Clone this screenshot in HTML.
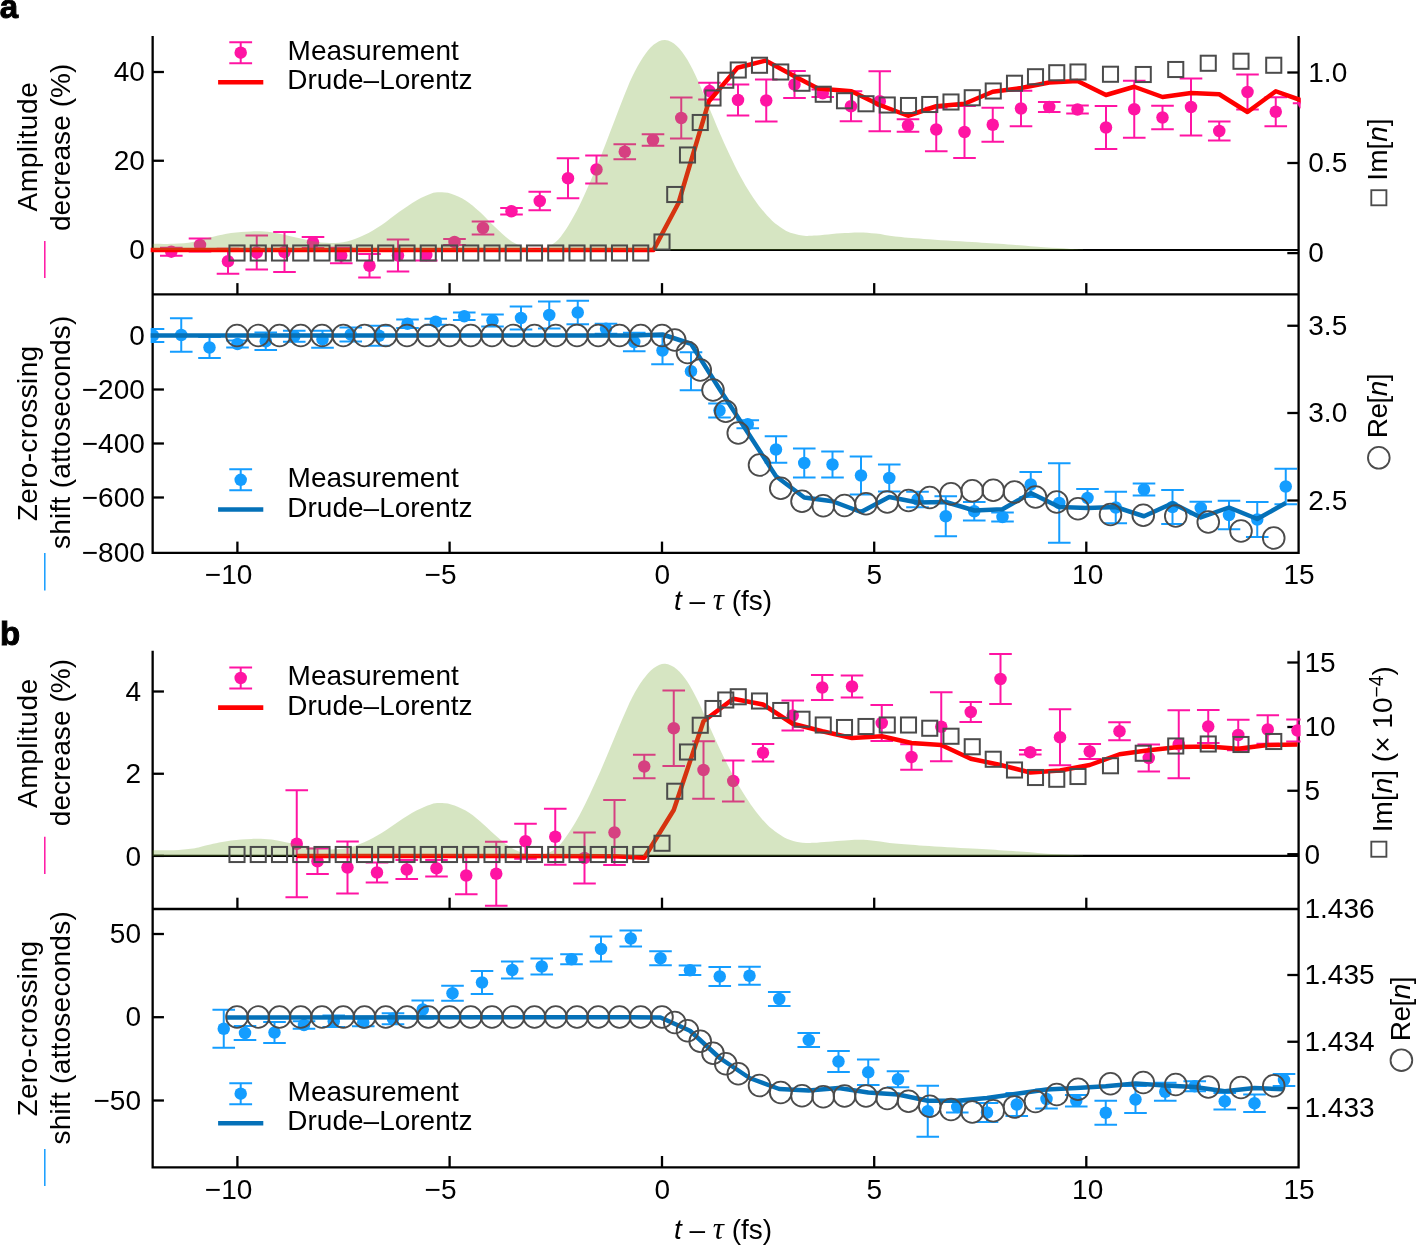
<!DOCTYPE html>
<html><head><meta charset="utf-8"><title>Figure</title>
<style>html,body{margin:0;padding:0;background:#fff}svg{display:block;will-change:transform}</style></head>
<body>
<svg width="1416" height="1245" viewBox="0 0 1416 1245" font-family="'Liberation Sans', sans-serif" fill="#000">
<rect width="1416" height="1245" fill="#fff"/>
<defs>
<clipPath id="ca1"><rect x="150.7" y="30" width="1149.9" height="264.4"/></clipPath>
<clipPath id="ca2"><rect x="150.7" y="294.4" width="1149.9" height="258.5"/></clipPath>
<clipPath id="cb1"><rect x="150.7" y="645" width="1149.9" height="264"/></clipPath>
<clipPath id="cb2"><rect x="150.7" y="909" width="1149.9" height="258.3"/></clipPath>
<clipPath id="cg1"><rect x="152.65" y="30" width="1145.9499999999998" height="220"/></clipPath>
<clipPath id="cg2"><rect x="152.65" y="645" width="1145.9499999999998" height="210.9"/></clipPath>
</defs>
<g stroke="#000" stroke-width="2.3" fill="none" stroke-linecap="butt" stroke-linejoin="miter"><path d="M152.65 36.1V552.9H1298.6V36.1"/><path d="M152.65 294.4H1298.6"/><path d="M152.65 650.7V1167.3H1298.6V650.7"/><path d="M152.65 909H1298.6"/><path d="M237.4 294.4v-11.3"/><path d="M449.6 294.4v-11.3"/><path d="M662 294.4v-11.3"/><path d="M874.2 294.4v-11.3"/><path d="M1086.3 294.4v-11.3"/><path d="M237.4 552.9v-11.3"/><path d="M449.6 552.9v-11.3"/><path d="M662 552.9v-11.3"/><path d="M874.2 552.9v-11.3"/><path d="M1086.3 552.9v-11.3"/><path d="M237.4 909v-11.3"/><path d="M449.6 909v-11.3"/><path d="M662 909v-11.3"/><path d="M874.2 909v-11.3"/><path d="M1086.3 909v-11.3"/><path d="M237.4 1167.3v-11.3"/><path d="M449.6 1167.3v-11.3"/><path d="M662 1167.3v-11.3"/><path d="M874.2 1167.3v-11.3"/><path d="M1086.3 1167.3v-11.3"/><path d="M152.65 72h11.3"/><path d="M152.65 160.75h11.3"/><path d="M152.65 250h11.3"/><path d="M152.65 335.5h11.3"/><path d="M152.65 389.5h11.3"/><path d="M152.65 443.5h11.3"/><path d="M152.65 497.5h11.3"/><path d="M152.65 691.5h11.3"/><path d="M152.65 773.75h11.3"/><path d="M152.65 855.9h11.3"/><path d="M152.65 934h11.3"/><path d="M152.65 1017.2h11.3"/><path d="M152.65 1100.5h11.3"/><path d="M1298.6 72.5h-11.3"/><path d="M1298.6 163h-11.3"/><path d="M1298.6 253.1h-11.3"/><path d="M1298.6 325.75h-11.3"/><path d="M1298.6 413h-11.3"/><path d="M1298.6 500.5h-11.3"/><path d="M1298.6 662.5h-11.3"/><path d="M1298.6 727h-11.3"/><path d="M1298.6 790.75h-11.3"/><path d="M1298.6 854.2h-11.3"/><path d="M1298.6 975h-11.3"/><path d="M1298.6 1041.75h-11.3"/><path d="M1298.6 1108h-11.3"/></g>
<g clip-path="url(#ca1)" stroke="#ff14a3" stroke-width="2" fill="#ff14a3"><path d="M171.30 247.70V255.70M160.00 247.70h22.6M160.00 255.70h22.6" fill="none"/><circle cx="171.30" cy="251.70" r="6.25" stroke="none"/><path d="M200.00 238.50V251.50M188.70 238.50h22.6M188.70 251.50h22.6" fill="none"/><circle cx="200.00" cy="245.00" r="6.25" stroke="none"/><path d="M228.00 248.75V273.75M216.70 248.75h22.6M216.70 273.75h22.6" fill="none"/><circle cx="228.00" cy="261.25" r="6.25" stroke="none"/><path d="M256.75 235.50V269.50M245.45 235.50h22.6M245.45 269.50h22.6" fill="none"/><circle cx="256.75" cy="252.50" r="6.25" stroke="none"/><path d="M284.50 232.00V272.00M273.20 232.00h22.6M273.20 272.00h22.6" fill="none"/><circle cx="284.50" cy="252.00" r="6.25" stroke="none"/><path d="M313.00 237.00V248.00M301.70 237.00h22.6M301.70 248.00h22.6" fill="none"/><circle cx="313.00" cy="242.50" r="6.25" stroke="none"/><path d="M341.25 247.75V263.25M329.95 247.75h22.6M329.95 263.25h22.6" fill="none"/><circle cx="341.25" cy="255.50" r="6.25" stroke="none"/><path d="M369.50 254.00V277.50M358.20 254.00h22.6M358.20 277.50h22.6" fill="none"/><circle cx="369.50" cy="265.75" r="6.25" stroke="none"/><path d="M398.00 239.50V271.50M386.70 239.50h22.6M386.70 271.50h22.6" fill="none"/><circle cx="398.00" cy="255.50" r="6.25" stroke="none"/><path d="M426.25 249.50V260.50M414.95 249.50h22.6M414.95 260.50h22.6" fill="none"/><circle cx="426.25" cy="255.00" r="6.25" stroke="none"/><path d="M454.50 239.00V245.00M443.20 239.00h22.6M443.20 245.00h22.6" fill="none"/><circle cx="454.50" cy="242.00" r="6.25" stroke="none"/><path d="M483.00 221.50V234.50M471.70 221.50h22.6M471.70 234.50h22.6" fill="none"/><circle cx="483.00" cy="228.00" r="6.25" stroke="none"/><path d="M511.50 208.00V214.50M500.20 208.00h22.6M500.20 214.50h22.6" fill="none"/><circle cx="511.50" cy="211.25" r="6.25" stroke="none"/><path d="M539.75 191.75V210.25M528.45 191.75h22.6M528.45 210.25h22.6" fill="none"/><circle cx="539.75" cy="201.00" r="6.25" stroke="none"/><path d="M568.00 158.25V198.25M556.70 158.25h22.6M556.70 198.25h22.6" fill="none"/><circle cx="568.00" cy="178.25" r="6.25" stroke="none"/><path d="M596.50 155.50V183.50M585.20 155.50h22.6M585.20 183.50h22.6" fill="none"/><circle cx="596.50" cy="169.50" r="6.25" stroke="none"/><path d="M624.75 144.15V159.35M613.45 144.15h22.6M613.45 159.35h22.6" fill="none"/><circle cx="624.75" cy="151.75" r="6.25" stroke="none"/><path d="M653.00 134.25V145.75M641.70 134.25h22.6M641.70 145.75h22.6" fill="none"/><circle cx="653.00" cy="140.00" r="6.25" stroke="none"/><path d="M681.25 97.50V138.50M669.95 97.50h22.6M669.95 138.50h22.6" fill="none"/><circle cx="681.25" cy="118.00" r="6.25" stroke="none"/><path d="M709.50 82.70V99.50M698.20 82.70h22.6M698.20 99.50h22.6" fill="none"/><circle cx="709.50" cy="91.10" r="6.25" stroke="none"/><path d="M738.00 84.60V115.40M726.70 84.60h22.6M726.70 115.40h22.6" fill="none"/><circle cx="738.00" cy="100.00" r="6.25" stroke="none"/><path d="M766.25 79.50V121.50M754.95 79.50h22.6M754.95 121.50h22.6" fill="none"/><circle cx="766.25" cy="100.50" r="6.25" stroke="none"/><path d="M794.50 71.10V97.90M783.20 71.10h22.6M783.20 97.90h22.6" fill="none"/><circle cx="794.50" cy="84.50" r="6.25" stroke="none"/><path d="M822.75 89.50V97.00M811.45 89.50h22.6M811.45 97.00h22.6" fill="none"/><circle cx="822.75" cy="93.25" r="6.25" stroke="none"/><path d="M851.00 91.25V121.25M839.70 91.25h22.6M839.70 121.25h22.6" fill="none"/><circle cx="851.00" cy="106.25" r="6.25" stroke="none"/><path d="M879.75 71.25V131.25M868.45 71.25h22.6M868.45 131.25h22.6" fill="none"/><circle cx="879.75" cy="101.25" r="6.25" stroke="none"/><path d="M908.00 119.25V131.75M896.70 119.25h22.6M896.70 131.75h22.6" fill="none"/><circle cx="908.00" cy="125.50" r="6.25" stroke="none"/><path d="M936.25 107.75V151.25M924.95 107.75h22.6M924.95 151.25h22.6" fill="none"/><circle cx="936.25" cy="129.50" r="6.25" stroke="none"/><path d="M964.50 106.00V158.00M953.20 106.00h22.6M953.20 158.00h22.6" fill="none"/><circle cx="964.50" cy="132.00" r="6.25" stroke="none"/><path d="M992.75 107.85V141.65M981.45 107.85h22.6M981.45 141.65h22.6" fill="none"/><circle cx="992.75" cy="124.75" r="6.25" stroke="none"/><path d="M1021.00 90.75V126.25M1009.70 90.75h22.6M1009.70 126.25h22.6" fill="none"/><circle cx="1021.00" cy="108.50" r="6.25" stroke="none"/><path d="M1049.25 102.00V112.00M1037.95 102.00h22.6M1037.95 112.00h22.6" fill="none"/><circle cx="1049.25" cy="107.00" r="6.25" stroke="none"/><path d="M1077.50 105.50V113.50M1066.20 105.50h22.6M1066.20 113.50h22.6" fill="none"/><circle cx="1077.50" cy="109.50" r="6.25" stroke="none"/><path d="M1106.00 106.10V148.90M1094.70 106.10h22.6M1094.70 148.90h22.6" fill="none"/><circle cx="1106.00" cy="127.50" r="6.25" stroke="none"/><path d="M1134.25 80.85V137.65M1122.95 80.85h22.6M1122.95 137.65h22.6" fill="none"/><circle cx="1134.25" cy="109.25" r="6.25" stroke="none"/><path d="M1162.50 105.75V129.25M1151.20 105.75h22.6M1151.20 129.25h22.6" fill="none"/><circle cx="1162.50" cy="117.50" r="6.25" stroke="none"/><path d="M1191.00 78.50V135.50M1179.70 78.50h22.6M1179.70 135.50h22.6" fill="none"/><circle cx="1191.00" cy="107.00" r="6.25" stroke="none"/><path d="M1219.25 121.50V140.50M1207.95 121.50h22.6M1207.95 140.50h22.6" fill="none"/><circle cx="1219.25" cy="131.00" r="6.25" stroke="none"/><path d="M1247.50 74.60V109.40M1236.20 74.60h22.6M1236.20 109.40h22.6" fill="none"/><circle cx="1247.50" cy="92.00" r="6.25" stroke="none"/><path d="M1275.75 97.15V126.35M1264.45 97.15h22.6M1264.45 126.35h22.6" fill="none"/><circle cx="1275.75" cy="111.75" r="6.25" stroke="none"/><path d="M1304.10 103.30V103.30M1292.80 103.30h22.6M1292.80 103.30h22.6" fill="none"/><circle cx="1304.10" cy="103.30" r="6.25" stroke="none"/></g>
<path d="M152.65 250H1298.6" stroke="#000" stroke-width="2.2"/>
<path clip-path="url(#ca1)" d="M148.00 249.90L653.50 249.90L678.50 203.00L708.80 101.50L737.50 67.80L765.50 60.60L794.50 76.30L818.00 88.60L851.50 91.25L879.75 105.00L908.00 115.75L936.25 106.25L964.50 103.75L992.75 91.75L1021.00 88.00L1049.25 82.50L1077.50 81.00L1106.00 95.00L1134.25 86.75L1162.50 97.00L1191.00 93.00L1219.25 94.25L1247.50 112.00L1275.75 91.25L1302.00 100.60" fill="none" stroke="#ff0000" stroke-width="4.5" stroke-linejoin="round" stroke-linecap="butt"/>
<path clip-path="url(#cg1)" d="M150.00 243.70C150.58 243.70 149.55 243.68 153.50 243.70C157.45 243.72 167.12 244.10 173.70 243.80C180.28 243.50 187.30 242.87 193.00 241.90C198.70 240.93 201.57 239.47 207.90 238.00C214.23 236.53 223.77 234.20 231.00 233.10C238.23 232.00 244.53 231.55 251.30 231.40C258.07 231.25 264.35 231.23 271.60 232.20C278.85 233.17 288.05 235.75 294.80 237.20C301.55 238.65 306.32 239.93 312.10 240.90C317.88 241.87 323.70 242.90 329.50 243.00C335.30 243.10 341.12 242.82 346.90 241.50C352.68 240.18 358.42 237.85 364.20 235.10C369.98 232.35 375.80 228.85 381.60 225.00C387.40 221.15 393.20 216.10 399.00 212.00C404.80 207.90 411.10 203.45 416.40 200.40C421.70 197.35 426.95 195.05 430.80 193.70C434.65 192.35 436.12 192.30 439.50 192.30C442.88 192.30 446.75 192.35 451.10 193.70C455.45 195.05 460.78 197.35 465.60 200.40C470.42 203.45 475.18 207.65 480.00 212.00C484.82 216.35 489.67 221.92 494.50 226.50C499.33 231.08 504.65 236.27 509.00 239.50C513.35 242.73 516.73 244.38 520.60 245.90C524.47 247.42 528.80 248.17 532.20 248.60C535.60 249.03 538.45 248.73 541.00 248.50C543.55 248.27 544.65 248.67 547.50 247.20C550.35 245.73 554.57 243.42 558.10 239.70C561.63 235.98 565.17 230.55 568.70 224.90C572.23 219.25 575.77 212.87 579.30 205.80C582.83 198.73 586.37 190.62 589.90 182.50C593.43 174.38 596.97 165.92 600.50 157.10C604.03 148.28 607.57 138.78 611.10 129.60C614.63 120.42 618.17 110.83 621.70 102.00C625.23 93.17 628.77 84.02 632.30 76.60C635.83 69.18 639.37 62.80 642.90 57.50C646.43 52.20 649.80 47.72 653.50 44.80C657.20 41.88 661.22 39.82 665.10 40.00C668.98 40.18 673.08 42.62 676.80 45.90C680.52 49.18 683.87 53.88 687.40 59.70C690.93 65.52 694.47 73.03 698.00 80.80C701.53 88.57 705.07 97.82 708.60 106.30C712.13 114.78 715.68 123.58 719.20 131.70C722.72 139.82 726.18 147.58 729.70 155.00C733.22 162.42 736.77 169.67 740.30 176.20C743.83 182.73 747.37 188.73 750.90 194.20C754.43 199.67 757.97 204.58 761.50 209.00C765.03 213.42 768.57 217.42 772.10 220.70C775.63 223.98 780.13 226.92 782.70 228.70C785.27 230.48 785.73 230.58 787.50 231.40C789.27 232.22 791.38 232.98 793.30 233.60C795.22 234.22 796.88 234.72 799.00 235.10C801.12 235.48 803.50 235.82 806.00 235.90C808.50 235.98 810.33 235.85 814.00 235.60C817.67 235.35 822.83 234.82 828.00 234.40C833.17 233.98 839.80 233.43 845.00 233.10C850.20 232.77 854.03 232.32 859.20 232.40C864.37 232.48 870.00 232.92 876.00 233.60C882.00 234.28 887.20 235.62 895.20 236.50C903.20 237.38 911.20 237.98 924.00 238.90C936.80 239.82 958.00 241.08 972.00 242.00C986.00 242.92 996.00 243.52 1008.00 244.40C1020.00 245.28 1034.00 246.58 1044.00 247.30C1054.00 248.02 1061.50 248.32 1068.00 248.70C1074.50 249.08 1080.50 249.45 1083.00 249.60L1083.00 250L150.00 250Z" fill="rgb(118,168,52)" fill-opacity="0.3"/>
<g fill="none" stroke="#4b4b4b" stroke-width="2"><rect x="229.45" y="245.45" width="15.1" height="15.1"/><rect x="250.70" y="245.45" width="15.1" height="15.1"/><rect x="271.95" y="245.45" width="15.1" height="15.1"/><rect x="293.20" y="245.45" width="15.1" height="15.1"/><rect x="314.45" y="245.45" width="15.1" height="15.1"/><rect x="335.70" y="245.45" width="15.1" height="15.1"/><rect x="356.95" y="245.45" width="15.1" height="15.1"/><rect x="378.20" y="245.45" width="15.1" height="15.1"/><rect x="399.45" y="245.45" width="15.1" height="15.1"/><rect x="420.70" y="245.45" width="15.1" height="15.1"/><rect x="441.95" y="245.45" width="15.1" height="15.1"/><rect x="463.20" y="245.45" width="15.1" height="15.1"/><rect x="484.45" y="245.45" width="15.1" height="15.1"/><rect x="505.70" y="245.45" width="15.1" height="15.1"/><rect x="526.95" y="245.45" width="15.1" height="15.1"/><rect x="548.20" y="245.45" width="15.1" height="15.1"/><rect x="569.45" y="245.45" width="15.1" height="15.1"/><rect x="590.70" y="245.45" width="15.1" height="15.1"/><rect x="611.95" y="245.45" width="15.1" height="15.1"/><rect x="633.20" y="245.45" width="15.1" height="15.1"/><rect x="654.45" y="234.45" width="15.1" height="15.1"/><rect x="667.20" y="186.95" width="15.1" height="15.1"/><rect x="679.95" y="147.45" width="15.1" height="15.1"/><rect x="692.70" y="114.95" width="15.1" height="15.1"/><rect x="705.45" y="90.45" width="15.1" height="15.1"/><rect x="718.20" y="72.70" width="15.1" height="15.1"/><rect x="730.70" y="62.45" width="15.1" height="15.1"/><rect x="751.95" y="57.70" width="15.1" height="15.1"/><rect x="773.20" y="64.45" width="15.1" height="15.1"/><rect x="794.45" y="75.70" width="15.1" height="15.1"/><rect x="815.70" y="86.70" width="15.1" height="15.1"/><rect x="836.95" y="93.20" width="15.1" height="15.1"/><rect x="858.45" y="96.20" width="15.1" height="15.1"/><rect x="879.70" y="97.45" width="15.1" height="15.1"/><rect x="900.95" y="97.95" width="15.1" height="15.1"/><rect x="922.20" y="96.95" width="15.1" height="15.1"/><rect x="943.45" y="94.45" width="15.1" height="15.1"/><rect x="964.70" y="90.20" width="15.1" height="15.1"/><rect x="985.70" y="83.45" width="15.1" height="15.1"/><rect x="1006.95" y="75.70" width="15.1" height="15.1"/><rect x="1027.95" y="69.20" width="15.1" height="15.1"/><rect x="1049.20" y="65.20" width="15.1" height="15.1"/><rect x="1070.45" y="64.45" width="15.1" height="15.1"/><rect x="1102.95" y="66.70" width="15.1" height="15.1"/><rect x="1135.70" y="66.95" width="15.1" height="15.1"/><rect x="1168.20" y="61.95" width="15.1" height="15.1"/><rect x="1200.70" y="55.70" width="15.1" height="15.1"/><rect x="1233.45" y="53.70" width="15.1" height="15.1"/><rect x="1266.20" y="57.70" width="15.1" height="15.1"/></g>
<g clip-path="url(#ca2)" stroke="#149dff" stroke-width="2" fill="#149dff"><path d="M153.00 328.90V342.10M141.70 328.90h22.6M141.70 342.10h22.6" fill="none"/><circle cx="153.00" cy="335.50" r="6.25" stroke="none"/><path d="M181.25 318.25V351.75M169.95 318.25h22.6M169.95 351.75h22.6" fill="none"/><circle cx="181.25" cy="335.00" r="6.25" stroke="none"/><path d="M209.50 337.00V358.00M198.20 337.00h22.6M198.20 358.00h22.6" fill="none"/><circle cx="209.50" cy="347.50" r="6.25" stroke="none"/><path d="M237.50 340.50V347.50M226.20 340.50h22.6M226.20 347.50h22.6" fill="none"/><circle cx="237.50" cy="344.00" r="6.25" stroke="none"/><path d="M265.75 332.50V350.00M254.45 332.50h22.6M254.45 350.00h22.6" fill="none"/><circle cx="265.75" cy="341.25" r="6.25" stroke="none"/><path d="M294.25 330.75V341.75M282.95 330.75h22.6M282.95 341.75h22.6" fill="none"/><circle cx="294.25" cy="336.25" r="6.25" stroke="none"/><path d="M322.50 330.75V347.75M311.20 330.75h22.6M311.20 347.75h22.6" fill="none"/><circle cx="322.50" cy="339.25" r="6.25" stroke="none"/><path d="M350.75 327.50V341.50M339.45 327.50h22.6M339.45 341.50h22.6" fill="none"/><circle cx="350.75" cy="334.50" r="6.25" stroke="none"/><path d="M379.00 325.75V345.75M367.70 325.75h22.6M367.70 345.75h22.6" fill="none"/><circle cx="379.00" cy="335.75" r="6.25" stroke="none"/><path d="M407.50 319.50V328.00M396.20 319.50h22.6M396.20 328.00h22.6" fill="none"/><circle cx="407.50" cy="323.75" r="6.25" stroke="none"/><path d="M435.75 318.75V324.75M424.45 318.75h22.6M424.45 324.75h22.6" fill="none"/><circle cx="435.75" cy="321.75" r="6.25" stroke="none"/><path d="M464.25 312.50V320.00M452.95 312.50h22.6M452.95 320.00h22.6" fill="none"/><circle cx="464.25" cy="316.25" r="6.25" stroke="none"/><path d="M492.50 314.50V326.50M481.20 314.50h22.6M481.20 326.50h22.6" fill="none"/><circle cx="492.50" cy="320.50" r="6.25" stroke="none"/><path d="M521.00 306.50V329.50M509.70 306.50h22.6M509.70 329.50h22.6" fill="none"/><circle cx="521.00" cy="318.00" r="6.25" stroke="none"/><path d="M549.25 301.60V328.40M537.95 301.60h22.6M537.95 328.40h22.6" fill="none"/><circle cx="549.25" cy="315.00" r="6.25" stroke="none"/><path d="M577.75 300.75V324.25M566.45 300.75h22.6M566.45 324.25h22.6" fill="none"/><circle cx="577.75" cy="312.50" r="6.25" stroke="none"/><path d="M606.00 323.75V333.75M594.70 323.75h22.6M594.70 333.75h22.6" fill="none"/><circle cx="606.00" cy="328.75" r="6.25" stroke="none"/><path d="M634.25 332.75V351.25M622.95 332.75h22.6M622.95 351.25h22.6" fill="none"/><circle cx="634.25" cy="342.00" r="6.25" stroke="none"/><path d="M662.50 336.75V364.25M651.20 336.75h22.6M651.20 364.25h22.6" fill="none"/><circle cx="662.50" cy="350.50" r="6.25" stroke="none"/><path d="M691.00 352.25V390.25M679.70 352.25h22.6M679.70 390.25h22.6" fill="none"/><circle cx="691.00" cy="371.25" r="6.25" stroke="none"/><path d="M719.50 403.60V417.40M708.20 403.60h22.6M708.20 417.40h22.6" fill="none"/><circle cx="719.50" cy="410.50" r="6.25" stroke="none"/><path d="M747.75 420.25V428.25M736.45 420.25h22.6M736.45 428.25h22.6" fill="none"/><circle cx="747.75" cy="424.25" r="6.25" stroke="none"/><path d="M776.00 436.25V462.75M764.70 436.25h22.6M764.70 462.75h22.6" fill="none"/><circle cx="776.00" cy="449.50" r="6.25" stroke="none"/><path d="M804.25 448.60V477.40M792.95 448.60h22.6M792.95 477.40h22.6" fill="none"/><circle cx="804.25" cy="463.00" r="6.25" stroke="none"/><path d="M832.50 451.50V477.50M821.20 451.50h22.6M821.20 477.50h22.6" fill="none"/><circle cx="832.50" cy="464.50" r="6.25" stroke="none"/><path d="M861.00 456.50V494.50M849.70 456.50h22.6M849.70 494.50h22.6" fill="none"/><circle cx="861.00" cy="475.50" r="6.25" stroke="none"/><path d="M889.25 464.50V491.50M877.95 464.50h22.6M877.95 491.50h22.6" fill="none"/><circle cx="889.25" cy="478.00" r="6.25" stroke="none"/><path d="M917.50 491.75V507.25M906.20 491.75h22.6M906.20 507.25h22.6" fill="none"/><circle cx="917.50" cy="499.50" r="6.25" stroke="none"/><path d="M945.75 496.25V536.25M934.45 496.25h22.6M934.45 536.25h22.6" fill="none"/><circle cx="945.75" cy="516.25" r="6.25" stroke="none"/><path d="M974.25 502.00V520.50M962.95 502.00h22.6M962.95 520.50h22.6" fill="none"/><circle cx="974.25" cy="511.25" r="6.25" stroke="none"/><path d="M1002.50 512.50V521.50M991.20 512.50h22.6M991.20 521.50h22.6" fill="none"/><circle cx="1002.50" cy="517.00" r="6.25" stroke="none"/><path d="M1030.75 472.00V497.00M1019.45 472.00h22.6M1019.45 497.00h22.6" fill="none"/><circle cx="1030.75" cy="484.50" r="6.25" stroke="none"/><path d="M1059.25 463.25V542.75M1047.95 463.25h22.6M1047.95 542.75h22.6" fill="none"/><circle cx="1059.25" cy="503.00" r="6.25" stroke="none"/><path d="M1087.50 489.00V507.00M1076.20 489.00h22.6M1076.20 507.00h22.6" fill="none"/><circle cx="1087.50" cy="498.00" r="6.25" stroke="none"/><path d="M1115.75 491.75V523.25M1104.45 491.75h22.6M1104.45 523.25h22.6" fill="none"/><circle cx="1115.75" cy="507.50" r="6.25" stroke="none"/><path d="M1144.00 483.40V495.60M1132.70 483.40h22.6M1132.70 495.60h22.6" fill="none"/><circle cx="1144.00" cy="489.50" r="6.25" stroke="none"/><path d="M1172.50 490.00V524.00M1161.20 490.00h22.6M1161.20 524.00h22.6" fill="none"/><circle cx="1172.50" cy="507.00" r="6.25" stroke="none"/><path d="M1200.75 501.75V514.25M1189.45 501.75h22.6M1189.45 514.25h22.6" fill="none"/><circle cx="1200.75" cy="508.00" r="6.25" stroke="none"/><path d="M1229.00 500.75V529.25M1217.70 500.75h22.6M1217.70 529.25h22.6" fill="none"/><circle cx="1229.00" cy="515.00" r="6.25" stroke="none"/><path d="M1257.25 502.00V537.00M1245.95 502.00h22.6M1245.95 537.00h22.6" fill="none"/><circle cx="1257.25" cy="519.50" r="6.25" stroke="none"/><path d="M1285.75 468.75V504.25M1274.45 468.75h22.6M1274.45 504.25h22.6" fill="none"/><circle cx="1285.75" cy="486.50" r="6.25" stroke="none"/></g>
<path clip-path="url(#ca2)" d="M148.00 335.50L634.25 335.50L662.50 334.50L691.00 343.75L719.50 389.00L747.75 432.50L776.00 476.25L804.25 497.50L832.50 501.25L861.00 512.00L889.25 497.00L917.50 502.50L945.75 502.00L974.25 510.50L1002.50 509.25L1030.75 493.00L1059.25 507.00L1087.50 508.00L1115.75 507.00L1144.00 516.25L1172.50 503.25L1200.75 517.50L1229.00 507.50L1257.25 519.00L1285.75 503.00" fill="none" stroke="#0571b8" stroke-width="4.5" stroke-linejoin="round" stroke-linecap="butt"/>
<g fill="none" stroke="#4b4b4b" stroke-width="1.85"><circle cx="237.00" cy="335.50" r="10.85"/><circle cx="258.25" cy="335.50" r="10.85"/><circle cx="279.50" cy="335.50" r="10.85"/><circle cx="300.75" cy="335.50" r="10.85"/><circle cx="322.00" cy="335.50" r="10.85"/><circle cx="343.25" cy="335.50" r="10.85"/><circle cx="364.50" cy="335.50" r="10.85"/><circle cx="385.75" cy="335.50" r="10.85"/><circle cx="407.00" cy="335.50" r="10.85"/><circle cx="428.25" cy="335.50" r="10.85"/><circle cx="449.50" cy="335.50" r="10.85"/><circle cx="470.75" cy="335.50" r="10.85"/><circle cx="492.00" cy="335.50" r="10.85"/><circle cx="513.25" cy="335.50" r="10.85"/><circle cx="534.50" cy="335.50" r="10.85"/><circle cx="555.75" cy="335.50" r="10.85"/><circle cx="577.00" cy="335.50" r="10.85"/><circle cx="598.25" cy="335.50" r="10.85"/><circle cx="619.50" cy="335.50" r="10.85"/><circle cx="640.75" cy="335.50" r="10.85"/><circle cx="662.00" cy="335.50" r="10.85"/><circle cx="674.75" cy="340.00" r="10.85"/><circle cx="687.50" cy="352.50" r="10.85"/><circle cx="700.25" cy="370.00" r="10.85"/><circle cx="713.00" cy="390.00" r="10.85"/><circle cx="725.75" cy="411.25" r="10.85"/><circle cx="738.25" cy="433.00" r="10.85"/><circle cx="759.50" cy="465.00" r="10.85"/><circle cx="780.75" cy="488.25" r="10.85"/><circle cx="802.00" cy="501.25" r="10.85"/><circle cx="823.25" cy="505.75" r="10.85"/><circle cx="844.50" cy="505.50" r="10.85"/><circle cx="866.00" cy="503.75" r="10.85"/><circle cx="887.25" cy="502.00" r="10.85"/><circle cx="908.50" cy="500.50" r="10.85"/><circle cx="929.75" cy="497.50" r="10.85"/><circle cx="951.00" cy="493.75" r="10.85"/><circle cx="972.25" cy="490.75" r="10.85"/><circle cx="993.25" cy="490.25" r="10.85"/><circle cx="1014.50" cy="492.00" r="10.85"/><circle cx="1035.50" cy="497.00" r="10.85"/><circle cx="1056.75" cy="502.00" r="10.85"/><circle cx="1078.00" cy="508.75" r="10.85"/><circle cx="1110.50" cy="514.50" r="10.85"/><circle cx="1143.25" cy="515.25" r="10.85"/><circle cx="1175.75" cy="516.00" r="10.85"/><circle cx="1208.25" cy="522.00" r="10.85"/><circle cx="1241.00" cy="531.00" r="10.85"/><circle cx="1273.75" cy="538.00" r="10.85"/></g>
<g clip-path="url(#cb1)" stroke="#ff14a3" stroke-width="2" fill="#ff14a3"><path d="M296.75 790.25V897.25M285.45 790.25h22.6M285.45 897.25h22.6" fill="none"/><circle cx="296.75" cy="843.75" r="6.25" stroke="none"/><path d="M317.50 848.50V874.00M306.20 848.50h22.6M306.20 874.00h22.6" fill="none"/><circle cx="317.50" cy="861.25" r="6.25" stroke="none"/><path d="M347.50 841.50V893.50M336.20 841.50h22.6M336.20 893.50h22.6" fill="none"/><circle cx="347.50" cy="867.50" r="6.25" stroke="none"/><path d="M377.00 862.50V882.50M365.70 862.50h22.6M365.70 882.50h22.6" fill="none"/><circle cx="377.00" cy="872.50" r="6.25" stroke="none"/><path d="M406.75 860.00V879.00M395.45 860.00h22.6M395.45 879.00h22.6" fill="none"/><circle cx="406.75" cy="869.50" r="6.25" stroke="none"/><path d="M436.50 860.00V876.50M425.20 860.00h22.6M425.20 876.50h22.6" fill="none"/><circle cx="436.50" cy="868.25" r="6.25" stroke="none"/><path d="M466.25 856.75V894.25M454.95 856.75h22.6M454.95 894.25h22.6" fill="none"/><circle cx="466.25" cy="875.50" r="6.25" stroke="none"/><path d="M496.25 841.75V905.75M484.95 841.75h22.6M484.95 905.75h22.6" fill="none"/><circle cx="496.25" cy="873.75" r="6.25" stroke="none"/><path d="M525.50 823.75V858.75M514.20 823.75h22.6M514.20 858.75h22.6" fill="none"/><circle cx="525.50" cy="841.25" r="6.25" stroke="none"/><path d="M555.25 808.75V864.75M543.95 808.75h22.6M543.95 864.75h22.6" fill="none"/><circle cx="555.25" cy="836.75" r="6.25" stroke="none"/><path d="M584.50 832.50V883.50M573.20 832.50h22.6M573.20 883.50h22.6" fill="none"/><circle cx="584.50" cy="858.00" r="6.25" stroke="none"/><path d="M614.50 800.00V865.00M603.20 800.00h22.6M603.20 865.00h22.6" fill="none"/><circle cx="614.50" cy="832.50" r="6.25" stroke="none"/><path d="M644.25 754.75V778.25M632.95 754.75h22.6M632.95 778.25h22.6" fill="none"/><circle cx="644.25" cy="766.50" r="6.25" stroke="none"/><path d="M673.75 690.50V766.00M662.45 690.50h22.6M662.45 766.00h22.6" fill="none"/><circle cx="673.75" cy="728.25" r="6.25" stroke="none"/><path d="M703.50 741.25V798.75M692.20 741.25h22.6M692.20 798.75h22.6" fill="none"/><circle cx="703.50" cy="770.00" r="6.25" stroke="none"/><path d="M733.25 760.40V801.60M721.95 760.40h22.6M721.95 801.60h22.6" fill="none"/><circle cx="733.25" cy="781.00" r="6.25" stroke="none"/><path d="M763.00 744.00V761.50M751.70 744.00h22.6M751.70 761.50h22.6" fill="none"/><circle cx="763.00" cy="752.75" r="6.25" stroke="none"/><path d="M792.75 700.50V730.50M781.45 700.50h22.6M781.45 730.50h22.6" fill="none"/><circle cx="792.75" cy="715.50" r="6.25" stroke="none"/><path d="M822.25 675.00V700.00M810.95 675.00h22.6M810.95 700.00h22.6" fill="none"/><circle cx="822.25" cy="687.50" r="6.25" stroke="none"/><path d="M852.00 675.60V697.40M840.70 675.60h22.6M840.70 697.40h22.6" fill="none"/><circle cx="852.00" cy="686.50" r="6.25" stroke="none"/><path d="M881.75 705.00V741.00M870.45 705.00h22.6M870.45 741.00h22.6" fill="none"/><circle cx="881.75" cy="723.00" r="6.25" stroke="none"/><path d="M911.50 744.25V769.75M900.20 744.25h22.6M900.20 769.75h22.6" fill="none"/><circle cx="911.50" cy="757.00" r="6.25" stroke="none"/><path d="M941.25 692.35V761.15M929.95 692.35h22.6M929.95 761.15h22.6" fill="none"/><circle cx="941.25" cy="726.75" r="6.25" stroke="none"/><path d="M970.75 702.00V722.00M959.45 702.00h22.6M959.45 722.00h22.6" fill="none"/><circle cx="970.75" cy="712.00" r="6.25" stroke="none"/><path d="M1000.50 654.00V704.00M989.20 654.00h22.6M989.20 704.00h22.6" fill="none"/><circle cx="1000.50" cy="679.00" r="6.25" stroke="none"/><path d="M1030.25 750.00V754.50M1018.95 750.00h22.6M1018.95 754.50h22.6" fill="none"/><circle cx="1030.25" cy="752.25" r="6.25" stroke="none"/><path d="M1060.00 709.25V765.25M1048.70 709.25h22.6M1048.70 765.25h22.6" fill="none"/><circle cx="1060.00" cy="737.25" r="6.25" stroke="none"/><path d="M1089.75 743.90V759.10M1078.45 743.90h22.6M1078.45 759.10h22.6" fill="none"/><circle cx="1089.75" cy="751.50" r="6.25" stroke="none"/><path d="M1119.50 722.15V740.35M1108.20 722.15h22.6M1108.20 740.35h22.6" fill="none"/><circle cx="1119.50" cy="731.25" r="6.25" stroke="none"/><path d="M1148.75 744.60V771.40M1137.45 744.60h22.6M1137.45 771.40h22.6" fill="none"/><circle cx="1148.75" cy="758.00" r="6.25" stroke="none"/><path d="M1178.75 710.15V778.35M1167.45 710.15h22.6M1167.45 778.35h22.6" fill="none"/><circle cx="1178.75" cy="744.25" r="6.25" stroke="none"/><path d="M1208.25 710.00V743.00M1196.95 710.00h22.6M1196.95 743.00h22.6" fill="none"/><circle cx="1208.25" cy="726.50" r="6.25" stroke="none"/><path d="M1238.25 719.75V750.25M1226.95 719.75h22.6M1226.95 750.25h22.6" fill="none"/><circle cx="1238.25" cy="735.00" r="6.25" stroke="none"/><path d="M1267.75 715.25V743.75M1256.45 715.25h22.6M1256.45 743.75h22.6" fill="none"/><circle cx="1267.75" cy="729.50" r="6.25" stroke="none"/><path d="M1297.50 719.50V741.50M1286.20 719.50h22.6M1286.20 741.50h22.6" fill="none"/><circle cx="1297.50" cy="730.50" r="6.25" stroke="none"/></g>
<path d="M152.65 855.9H1298.6" stroke="#000" stroke-width="2.2"/>
<path clip-path="url(#cb1)" d="M296.75 855.90L614.50 856.20L644.25 857.80L673.75 810.00L703.50 721.25L733.25 698.75L763.00 704.50L792.75 723.75L822.25 731.25L852.00 738.00L881.75 736.25L911.50 743.00L941.25 745.00L970.75 758.75L1000.50 765.00L1030.25 772.50L1060.00 770.50L1089.75 765.00L1119.50 754.25L1148.75 750.25L1178.75 747.00L1208.25 746.50L1238.25 748.75L1267.75 745.00L1297.50 744.50" fill="none" stroke="#ff0000" stroke-width="4.5" stroke-linejoin="round" stroke-linecap="butt"/>
<path clip-path="url(#cg2)" d="M150.00 850.14C150.58 850.14 149.55 850.12 153.50 850.14C157.45 850.15 167.12 850.50 173.70 850.23C180.28 849.95 187.30 849.37 193.00 848.49C198.70 847.60 201.57 846.26 207.90 844.92C214.23 843.58 223.77 841.44 231.00 840.44C238.23 839.43 244.53 839.02 251.30 838.88C258.07 838.74 264.35 838.73 271.60 839.61C278.85 840.50 288.05 842.86 294.80 844.19C301.55 845.51 306.32 846.69 312.10 847.57C317.88 848.46 323.70 849.40 329.50 849.50C335.30 849.59 341.12 849.33 346.90 848.12C352.68 846.92 358.42 844.78 364.20 842.27C369.98 839.75 375.80 836.55 381.60 833.02C387.40 829.50 393.20 824.88 399.00 821.13C404.80 817.38 411.10 813.31 416.40 810.52C421.70 807.73 426.95 805.62 430.80 804.39C434.65 803.15 436.12 803.10 439.50 803.10C442.88 803.10 446.75 803.15 451.10 804.39C455.45 805.62 460.78 807.73 465.60 810.52C470.42 813.31 475.18 817.15 480.00 821.13C484.82 825.11 489.67 830.20 494.50 834.40C499.33 838.59 504.65 843.33 509.00 846.29C513.35 849.25 516.73 850.76 520.60 852.15C524.47 853.54 528.80 854.22 532.20 854.62C535.60 855.02 538.45 854.74 541.00 854.53C543.55 854.31 544.65 854.68 547.50 853.34C550.35 852.00 554.57 849.88 558.10 846.48C561.63 843.07 565.17 838.10 568.70 832.93C572.23 827.76 575.77 821.92 579.30 815.46C582.83 808.99 586.37 801.56 589.90 794.14C593.43 786.71 596.97 778.96 600.50 770.90C604.03 762.83 607.57 754.14 611.10 745.73C614.63 737.33 618.17 728.56 621.70 720.48C625.23 712.40 628.77 704.03 632.30 697.24C635.83 690.45 639.37 684.61 642.90 679.76C646.43 674.91 649.80 670.81 653.50 668.14C657.20 665.47 661.22 663.58 665.10 663.75C668.98 663.92 673.08 666.14 676.80 669.15C680.52 672.15 683.87 676.45 687.40 681.78C690.93 687.10 694.47 693.98 698.00 701.08C701.53 708.19 705.07 716.65 708.60 724.41C712.13 732.18 715.68 740.23 719.20 747.66C722.72 755.08 726.18 762.19 729.70 768.98C733.22 775.76 736.77 782.39 740.30 788.37C743.83 794.35 747.37 799.84 750.90 804.84C754.43 809.85 757.97 814.34 761.50 818.38C765.03 822.43 768.57 826.09 772.10 829.09C775.63 832.09 780.13 834.78 782.70 836.41C785.27 838.04 785.73 838.13 787.50 838.88C789.27 839.63 791.38 840.33 793.30 840.89C795.22 841.46 796.88 841.92 799.00 842.27C801.12 842.62 803.50 842.92 806.00 843.00C808.50 843.07 810.33 842.95 814.00 842.72C817.67 842.50 822.83 842.01 828.00 841.63C833.17 841.24 839.80 840.74 845.00 840.44C850.20 840.13 854.03 839.72 859.20 839.80C864.37 839.87 870.00 840.27 876.00 840.89C882.00 841.52 887.20 842.74 895.20 843.55C903.20 844.36 911.20 844.90 924.00 845.74C936.80 846.58 958.00 847.74 972.00 848.58C986.00 849.42 996.00 849.97 1008.00 850.78C1020.00 851.58 1034.00 852.77 1044.00 853.43C1054.00 854.09 1061.50 854.36 1068.00 854.71C1074.50 855.06 1080.50 855.40 1083.00 855.53L1083.00 855.9L150.00 855.9Z" fill="rgb(118,168,52)" fill-opacity="0.3"/>
<g fill="none" stroke="#4b4b4b" stroke-width="2"><rect x="229.45" y="846.95" width="15.1" height="15.1"/><rect x="250.70" y="846.95" width="15.1" height="15.1"/><rect x="271.95" y="846.95" width="15.1" height="15.1"/><rect x="293.20" y="846.95" width="15.1" height="15.1"/><rect x="314.45" y="846.95" width="15.1" height="15.1"/><rect x="335.70" y="846.95" width="15.1" height="15.1"/><rect x="356.95" y="846.95" width="15.1" height="15.1"/><rect x="378.20" y="846.95" width="15.1" height="15.1"/><rect x="399.45" y="846.95" width="15.1" height="15.1"/><rect x="420.70" y="846.95" width="15.1" height="15.1"/><rect x="441.95" y="846.95" width="15.1" height="15.1"/><rect x="463.20" y="846.95" width="15.1" height="15.1"/><rect x="484.45" y="846.95" width="15.1" height="15.1"/><rect x="505.70" y="846.95" width="15.1" height="15.1"/><rect x="526.95" y="846.95" width="15.1" height="15.1"/><rect x="548.20" y="846.95" width="15.1" height="15.1"/><rect x="569.45" y="846.95" width="15.1" height="15.1"/><rect x="590.70" y="846.95" width="15.1" height="15.1"/><rect x="611.95" y="846.95" width="15.1" height="15.1"/><rect x="633.20" y="846.95" width="15.1" height="15.1"/><rect x="654.45" y="835.70" width="15.1" height="15.1"/><rect x="667.20" y="783.70" width="15.1" height="15.1"/><rect x="679.95" y="744.45" width="15.1" height="15.1"/><rect x="692.70" y="717.70" width="15.1" height="15.1"/><rect x="705.45" y="700.95" width="15.1" height="15.1"/><rect x="718.20" y="692.45" width="15.1" height="15.1"/><rect x="730.70" y="689.20" width="15.1" height="15.1"/><rect x="751.95" y="693.45" width="15.1" height="15.1"/><rect x="773.20" y="702.95" width="15.1" height="15.1"/><rect x="794.45" y="711.70" width="15.1" height="15.1"/><rect x="815.70" y="717.45" width="15.1" height="15.1"/><rect x="836.95" y="719.95" width="15.1" height="15.1"/><rect x="858.45" y="718.95" width="15.1" height="15.1"/><rect x="879.70" y="717.45" width="15.1" height="15.1"/><rect x="900.95" y="717.45" width="15.1" height="15.1"/><rect x="922.20" y="720.70" width="15.1" height="15.1"/><rect x="943.45" y="728.70" width="15.1" height="15.1"/><rect x="964.70" y="739.20" width="15.1" height="15.1"/><rect x="985.70" y="751.70" width="15.1" height="15.1"/><rect x="1006.95" y="762.45" width="15.1" height="15.1"/><rect x="1027.95" y="769.95" width="15.1" height="15.1"/><rect x="1049.20" y="771.70" width="15.1" height="15.1"/><rect x="1070.45" y="768.95" width="15.1" height="15.1"/><rect x="1102.95" y="758.20" width="15.1" height="15.1"/><rect x="1135.70" y="745.70" width="15.1" height="15.1"/><rect x="1168.20" y="738.45" width="15.1" height="15.1"/><rect x="1200.70" y="736.45" width="15.1" height="15.1"/><rect x="1233.45" y="736.95" width="15.1" height="15.1"/><rect x="1266.20" y="733.95" width="15.1" height="15.1"/></g>
<g clip-path="url(#cb2)" stroke="#149dff" stroke-width="2" fill="#149dff"><path d="M223.75 1009.75V1047.75M212.45 1009.75h22.6M212.45 1047.75h22.6" fill="none"/><circle cx="223.75" cy="1028.75" r="6.25" stroke="none"/><path d="M245.00 1026.00V1040.00M233.70 1026.00h22.6M233.70 1040.00h22.6" fill="none"/><circle cx="245.00" cy="1033.00" r="6.25" stroke="none"/><path d="M274.50 1022.00V1043.00M263.20 1022.00h22.6M263.20 1043.00h22.6" fill="none"/><circle cx="274.50" cy="1032.50" r="6.25" stroke="none"/><path d="M304.00 1021.25V1028.75M292.70 1021.25h22.6M292.70 1028.75h22.6" fill="none"/><circle cx="304.00" cy="1025.00" r="6.25" stroke="none"/><path d="M333.75 1015.50V1027.00M322.45 1015.50h22.6M322.45 1027.00h22.6" fill="none"/><circle cx="333.75" cy="1021.25" r="6.25" stroke="none"/><path d="M363.25 1018.75V1026.25M351.95 1018.75h22.6M351.95 1026.25h22.6" fill="none"/><circle cx="363.25" cy="1022.50" r="6.25" stroke="none"/><path d="M393.00 1013.15V1024.35M381.70 1013.15h22.6M381.70 1024.35h22.6" fill="none"/><circle cx="393.00" cy="1018.75" r="6.25" stroke="none"/><path d="M422.75 1000.50V1018.50M411.45 1000.50h22.6M411.45 1018.50h22.6" fill="none"/><circle cx="422.75" cy="1009.50" r="6.25" stroke="none"/><path d="M452.50 985.75V1000.75M441.20 985.75h22.6M441.20 1000.75h22.6" fill="none"/><circle cx="452.50" cy="993.25" r="6.25" stroke="none"/><path d="M482.00 971.00V994.00M470.70 971.00h22.6M470.70 994.00h22.6" fill="none"/><circle cx="482.00" cy="982.50" r="6.25" stroke="none"/><path d="M512.25 961.50V978.50M500.95 961.50h22.6M500.95 978.50h22.6" fill="none"/><circle cx="512.25" cy="970.00" r="6.25" stroke="none"/><path d="M541.75 958.60V974.40M530.45 958.60h22.6M530.45 974.40h22.6" fill="none"/><circle cx="541.75" cy="966.50" r="6.25" stroke="none"/><path d="M571.50 954.15V964.35M560.20 954.15h22.6M560.20 964.35h22.6" fill="none"/><circle cx="571.50" cy="959.25" r="6.25" stroke="none"/><path d="M601.00 936.40V961.60M589.70 936.40h22.6M589.70 961.60h22.6" fill="none"/><circle cx="601.00" cy="949.00" r="6.25" stroke="none"/><path d="M630.75 930.50V946.50M619.45 930.50h22.6M619.45 946.50h22.6" fill="none"/><circle cx="630.75" cy="938.50" r="6.25" stroke="none"/><path d="M660.50 951.25V965.25M649.20 951.25h22.6M649.20 965.25h22.6" fill="none"/><circle cx="660.50" cy="958.25" r="6.25" stroke="none"/><path d="M690.00 965.50V975.00M678.70 965.50h22.6M678.70 975.00h22.6" fill="none"/><circle cx="690.00" cy="970.25" r="6.25" stroke="none"/><path d="M719.75 967.00V986.00M708.45 967.00h22.6M708.45 986.00h22.6" fill="none"/><circle cx="719.75" cy="976.50" r="6.25" stroke="none"/><path d="M749.50 966.65V984.85M738.20 966.65h22.6M738.20 984.85h22.6" fill="none"/><circle cx="749.50" cy="975.75" r="6.25" stroke="none"/><path d="M779.25 992.10V1005.90M767.95 992.10h22.6M767.95 1005.90h22.6" fill="none"/><circle cx="779.25" cy="999.00" r="6.25" stroke="none"/><path d="M808.75 1032.90V1047.10M797.45 1032.90h22.6M797.45 1047.10h22.6" fill="none"/><circle cx="808.75" cy="1040.00" r="6.25" stroke="none"/><path d="M838.50 1051.10V1071.90M827.20 1051.10h22.6M827.20 1071.90h22.6" fill="none"/><circle cx="838.50" cy="1061.50" r="6.25" stroke="none"/><path d="M868.25 1059.50V1085.00M856.95 1059.50h22.6M856.95 1085.00h22.6" fill="none"/><circle cx="868.25" cy="1072.25" r="6.25" stroke="none"/><path d="M898.00 1071.25V1087.25M886.70 1071.25h22.6M886.70 1087.25h22.6" fill="none"/><circle cx="898.00" cy="1079.25" r="6.25" stroke="none"/><path d="M927.75 1085.75V1136.75M916.45 1085.75h22.6M916.45 1136.75h22.6" fill="none"/><circle cx="927.75" cy="1111.25" r="6.25" stroke="none"/><path d="M957.25 1101.50V1112.50M945.95 1101.50h22.6M945.95 1112.50h22.6" fill="none"/><circle cx="957.25" cy="1107.00" r="6.25" stroke="none"/><path d="M987.00 1103.00V1122.00M975.70 1103.00h22.6M975.70 1122.00h22.6" fill="none"/><circle cx="987.00" cy="1112.50" r="6.25" stroke="none"/><path d="M1016.75 1093.10V1115.90M1005.45 1093.10h22.6M1005.45 1115.90h22.6" fill="none"/><circle cx="1016.75" cy="1104.50" r="6.25" stroke="none"/><path d="M1046.50 1089.60V1108.40M1035.20 1089.60h22.6M1035.20 1108.40h22.6" fill="none"/><circle cx="1046.50" cy="1099.00" r="6.25" stroke="none"/><path d="M1076.25 1095.00V1106.50M1064.95 1095.00h22.6M1064.95 1106.50h22.6" fill="none"/><circle cx="1076.25" cy="1100.75" r="6.25" stroke="none"/><path d="M1105.75 1100.75V1124.75M1094.45 1100.75h22.6M1094.45 1124.75h22.6" fill="none"/><circle cx="1105.75" cy="1112.75" r="6.25" stroke="none"/><path d="M1135.50 1086.10V1112.90M1124.20 1086.10h22.6M1124.20 1112.90h22.6" fill="none"/><circle cx="1135.50" cy="1099.50" r="6.25" stroke="none"/><path d="M1165.25 1082.75V1100.75M1153.95 1082.75h22.6M1153.95 1100.75h22.6" fill="none"/><circle cx="1165.25" cy="1091.75" r="6.25" stroke="none"/><path d="M1194.75 1081.25V1091.25M1183.45 1081.25h22.6M1183.45 1091.25h22.6" fill="none"/><circle cx="1194.75" cy="1086.25" r="6.25" stroke="none"/><path d="M1224.75 1093.00V1109.50M1213.45 1093.00h22.6M1213.45 1109.50h22.6" fill="none"/><circle cx="1224.75" cy="1101.25" r="6.25" stroke="none"/><path d="M1254.50 1094.50V1112.00M1243.20 1094.50h22.6M1243.20 1112.00h22.6" fill="none"/><circle cx="1254.50" cy="1103.25" r="6.25" stroke="none"/><path d="M1284.00 1074.00V1086.00M1272.70 1074.00h22.6M1272.70 1086.00h22.6" fill="none"/><circle cx="1284.00" cy="1080.00" r="6.25" stroke="none"/></g>
<path clip-path="url(#cb2)" d="M226.00 1017.50L630.75 1017.30L660.50 1017.50L690.00 1030.75L719.75 1058.00L749.50 1078.00L779.25 1089.00L808.75 1090.50L838.50 1088.00L868.25 1092.50L898.00 1094.50L927.75 1100.75L957.25 1100.75L987.00 1098.00L1016.75 1093.75L1046.50 1089.50L1076.25 1088.00L1105.75 1086.25L1135.50 1083.50L1165.25 1085.50L1194.75 1087.00L1224.75 1091.25L1254.50 1088.00L1284.00 1089.25" fill="none" stroke="#0571b8" stroke-width="4.5" stroke-linejoin="round" stroke-linecap="butt"/>
<g fill="none" stroke="#4b4b4b" stroke-width="1.85"><circle cx="237.00" cy="1017.00" r="10.85"/><circle cx="258.25" cy="1017.00" r="10.85"/><circle cx="279.50" cy="1017.00" r="10.85"/><circle cx="300.75" cy="1017.00" r="10.85"/><circle cx="322.00" cy="1017.00" r="10.85"/><circle cx="343.25" cy="1017.00" r="10.85"/><circle cx="364.50" cy="1017.00" r="10.85"/><circle cx="385.75" cy="1017.00" r="10.85"/><circle cx="407.00" cy="1017.00" r="10.85"/><circle cx="428.25" cy="1017.00" r="10.85"/><circle cx="449.50" cy="1017.00" r="10.85"/><circle cx="470.75" cy="1017.00" r="10.85"/><circle cx="492.00" cy="1017.00" r="10.85"/><circle cx="513.25" cy="1017.00" r="10.85"/><circle cx="534.50" cy="1017.00" r="10.85"/><circle cx="555.75" cy="1017.00" r="10.85"/><circle cx="577.00" cy="1017.00" r="10.85"/><circle cx="598.25" cy="1017.00" r="10.85"/><circle cx="619.50" cy="1017.00" r="10.85"/><circle cx="640.75" cy="1017.00" r="10.85"/><circle cx="662.00" cy="1017.00" r="10.85"/><circle cx="674.75" cy="1022.50" r="10.85"/><circle cx="687.50" cy="1030.75" r="10.85"/><circle cx="700.25" cy="1041.25" r="10.85"/><circle cx="713.00" cy="1053.25" r="10.85"/><circle cx="725.75" cy="1063.75" r="10.85"/><circle cx="738.25" cy="1073.75" r="10.85"/><circle cx="759.50" cy="1085.50" r="10.85"/><circle cx="780.75" cy="1092.50" r="10.85"/><circle cx="802.00" cy="1095.75" r="10.85"/><circle cx="823.25" cy="1096.75" r="10.85"/><circle cx="844.50" cy="1096.00" r="10.85"/><circle cx="866.00" cy="1096.00" r="10.85"/><circle cx="887.25" cy="1098.50" r="10.85"/><circle cx="908.50" cy="1101.25" r="10.85"/><circle cx="929.75" cy="1106.25" r="10.85"/><circle cx="951.00" cy="1109.50" r="10.85"/><circle cx="972.25" cy="1112.00" r="10.85"/><circle cx="993.25" cy="1110.75" r="10.85"/><circle cx="1014.50" cy="1107.00" r="10.85"/><circle cx="1035.50" cy="1101.50" r="10.85"/><circle cx="1056.75" cy="1094.50" r="10.85"/><circle cx="1078.00" cy="1089.25" r="10.85"/><circle cx="1110.50" cy="1083.75" r="10.85"/><circle cx="1143.25" cy="1082.50" r="10.85"/><circle cx="1175.75" cy="1084.50" r="10.85"/><circle cx="1208.25" cy="1087.00" r="10.85"/><circle cx="1241.00" cy="1087.50" r="10.85"/><circle cx="1273.75" cy="1085.75" r="10.85"/></g>
<text x="144.8" y="81.3" text-anchor="end" font-size="28" >40</text>
<text x="144.8" y="170.05" text-anchor="end" font-size="28" >20</text>
<text x="144.8" y="259.3" text-anchor="end" font-size="28" >0</text>
<text x="144.8" y="344.8" text-anchor="end" font-size="28" >0</text>
<text x="144.8" y="398.8" text-anchor="end" font-size="28" >−200</text>
<text x="144.8" y="452.8" text-anchor="end" font-size="28" >−400</text>
<text x="144.8" y="506.8" text-anchor="end" font-size="28" >−600</text>
<text x="144.8" y="561.8" text-anchor="end" font-size="28" >−800</text>
<text x="141.0" y="700.8" text-anchor="end" font-size="28" >4</text>
<text x="141.0" y="783.05" text-anchor="end" font-size="28" >2</text>
<text x="141.0" y="865.55" text-anchor="end" font-size="28" >0</text>
<text x="141.0" y="943.05" text-anchor="end" font-size="28" >50</text>
<text x="141.0" y="1026.3" text-anchor="end" font-size="28" >0</text>
<text x="141.0" y="1109.8" text-anchor="end" font-size="28" >−50</text>
<text x="1308.3" y="81.8" text-anchor="start" font-size="28" >1.0</text>
<text x="1308.3" y="172.3" text-anchor="start" font-size="28" >0.5</text>
<text x="1308.3" y="262.3" text-anchor="start" font-size="28" >0</text>
<text x="1308.3" y="335.05" text-anchor="start" font-size="28" >3.5</text>
<text x="1308.3" y="422.3" text-anchor="start" font-size="28" >3.0</text>
<text x="1308.3" y="509.8" text-anchor="start" font-size="28" >2.5</text>
<text x="1304.5" y="671.8" text-anchor="start" font-size="28" >15</text>
<text x="1304.5" y="736.3" text-anchor="start" font-size="28" >10</text>
<text x="1304.5" y="800.05" text-anchor="start" font-size="28" >5</text>
<text x="1304.5" y="863.8" text-anchor="start" font-size="28" >0</text>
<text x="1304.5" y="918.3" text-anchor="start" font-size="28" >1.436</text>
<text x="1304.5" y="984.3" text-anchor="start" font-size="28" >1.435</text>
<text x="1304.5" y="1051.05" text-anchor="start" font-size="28" >1.434</text>
<text x="1304.5" y="1117.3" text-anchor="start" font-size="28" >1.433</text>
<text x="252.3" y="583.7" text-anchor="end" font-size="28" >−10</text>
<text x="456.5" y="583.7" text-anchor="end" font-size="28" >−5</text>
<text x="662.3" y="583.7" text-anchor="middle" font-size="28" >0</text>
<text x="874.3" y="583.7" text-anchor="middle" font-size="28" >5</text>
<text x="1087.7" y="583.7" text-anchor="middle" font-size="28" >10</text>
<text x="1299" y="583.7" text-anchor="middle" font-size="28" >15</text>
<text x="252.3" y="1198.6" text-anchor="end" font-size="28" >−10</text>
<text x="456.5" y="1198.6" text-anchor="end" font-size="28" >−5</text>
<text x="662.3" y="1198.6" text-anchor="middle" font-size="28" >0</text>
<text x="874.3" y="1198.6" text-anchor="middle" font-size="28" >5</text>
<text x="1087.7" y="1198.6" text-anchor="middle" font-size="28" >10</text>
<text x="1299" y="1198.6" text-anchor="middle" font-size="28" >15</text>
<text x="674" y="609.7" font-size="28" textLength="98" lengthAdjust="spacing"><tspan font-style="italic">t</tspan> – <tspan font-family="'Liberation Serif', serif" font-style="italic" font-size="31">τ</tspan> (fs)</text>
<text x="674" y="1238.9" font-size="28" textLength="98" lengthAdjust="spacing"><tspan font-style="italic">t</tspan> – <tspan font-family="'Liberation Serif', serif" font-style="italic" font-size="31">τ</tspan> (fs)</text>
<g stroke="#ff14a3" stroke-width="2" fill="#ff14a3"><path d="M240.7 42.2V63.2M229.3 42.2h22.8M229.3 63.2h22.8" fill="none"/><circle cx="240.7" cy="52.7" r="6.25" stroke="none"/></g>
<path d="M218.1 82.30000000000001H263.3" stroke="#ff0000" stroke-width="4.6"/>
<text x="287.6" y="59.6" font-size="28" >Measurement</text>
<text x="287.3" y="89.4" font-size="28" >Drude–Lorentz</text>
<g stroke="#149dff" stroke-width="2" fill="#149dff"><path d="M240.7 469.35V490.35M229.3 469.35h22.8M229.3 490.35h22.8" fill="none"/><circle cx="240.7" cy="479.85" r="6.25" stroke="none"/></g>
<path d="M218.1 509.45000000000005H263.3" stroke="#0571b8" stroke-width="4.6"/>
<text x="287.6" y="486.75" font-size="28" >Measurement</text>
<text x="287.3" y="516.5500000000001" font-size="28" >Drude–Lorentz</text>
<g stroke="#ff14a3" stroke-width="2" fill="#ff14a3"><path d="M240.7 667.5V688.5M229.3 667.5h22.8M229.3 688.5h22.8" fill="none"/><circle cx="240.7" cy="678" r="6.25" stroke="none"/></g>
<path d="M218.1 707.6H263.3" stroke="#ff0000" stroke-width="4.6"/>
<text x="287.6" y="684.9" font-size="28" >Measurement</text>
<text x="287.3" y="714.7" font-size="28" >Drude–Lorentz</text>
<g stroke="#149dff" stroke-width="2" fill="#149dff"><path d="M240.7 1083.2V1104.2M229.3 1083.2h22.8M229.3 1104.2h22.8" fill="none"/><circle cx="240.7" cy="1093.7" r="6.25" stroke="none"/></g>
<path d="M218.1 1123.3H263.3" stroke="#0571b8" stroke-width="4.6"/>
<text x="287.6" y="1100.6000000000001" font-size="28" >Measurement</text>
<text x="287.3" y="1130.4" font-size="28" >Drude–Lorentz</text>
<text transform="translate(37.3 146.6) rotate(-90)" text-anchor="middle" font-size="28" letter-spacing="0.6">Amplitude</text>
<text transform="translate(70.4 147.3) rotate(-90)" text-anchor="middle" font-size="28" letter-spacing="0.08">decrease (%)</text>
<path d="M44.8 241V278" stroke="#ff14a3" stroke-width="1.5"/>
<text transform="translate(37.3 433.4) rotate(-90)" text-anchor="middle" font-size="28" letter-spacing="0.36">Zero-crossing</text>
<text transform="translate(70.4 432.2) rotate(-90)" text-anchor="middle" font-size="28" letter-spacing="0.25">shift (attoseconds)</text>
<path d="M44.8 553V590.4" stroke="#149dff" stroke-width="1.5"/>
<text transform="translate(37.3 743.1) rotate(-90)" text-anchor="middle" font-size="28" letter-spacing="0.6">Amplitude</text>
<text transform="translate(70.4 742.5) rotate(-90)" text-anchor="middle" font-size="28" letter-spacing="0.08">decrease (%)</text>
<path d="M44.8 836.7V874.1" stroke="#ff14a3" stroke-width="1.5"/>
<text transform="translate(37.3 1028.6) rotate(-90)" text-anchor="middle" font-size="28" letter-spacing="0.36">Zero-crossing</text>
<text transform="translate(70.4 1027.8) rotate(-90)" text-anchor="middle" font-size="28" letter-spacing="0.25">shift (attoseconds)</text>
<path d="M44.8 1148.9V1186" stroke="#149dff" stroke-width="1.5"/>
<text transform="translate(1387.3 149.5) rotate(-90)" text-anchor="middle" font-size="28" >Im[<tspan font-style="italic">n</tspan>]</text>
<rect x="1371.3" y="190.2" width="15.1" height="15.1" fill="none" stroke="#4b4b4b" stroke-width="1.85"/>
<text transform="translate(1387.3 406.2) rotate(-90)" text-anchor="middle" font-size="28" letter-spacing="-0.55">Re[<tspan font-style="italic">n</tspan>]</text>
<circle cx="1378.8" cy="457.8" r="10.85" fill="none" stroke="#4b4b4b" stroke-width="1.85"/>
<text transform="translate(1392.1 749.2) rotate(-90)" text-anchor="middle" font-size="28" >Im[<tspan font-style="italic">n</tspan>] (× 10<tspan font-size="19.3" dy="-9.6">−4</tspan><tspan dy="9.6">)</tspan></text>
<rect x="1371.3" y="841.65" width="15.1" height="15.1" fill="none" stroke="#4b4b4b" stroke-width="1.85"/>
<text transform="translate(1409.9 1009.2) rotate(-90)" text-anchor="middle" font-size="28" letter-spacing="-0.55">Re[<tspan font-style="italic">n</tspan>]</text>
<circle cx="1401.4" cy="1060.2" r="10.85" fill="none" stroke="#4b4b4b" stroke-width="1.85"/>
<text x="-0.2" y="17.5" text-anchor="start" font-size="33" font-weight="bold" stroke="#000" stroke-width="1">a</text>
<text x="-0.1" y="645" text-anchor="start" font-size="33" font-weight="bold" stroke="#000" stroke-width="1">b</text>
</svg>
</body></html>
